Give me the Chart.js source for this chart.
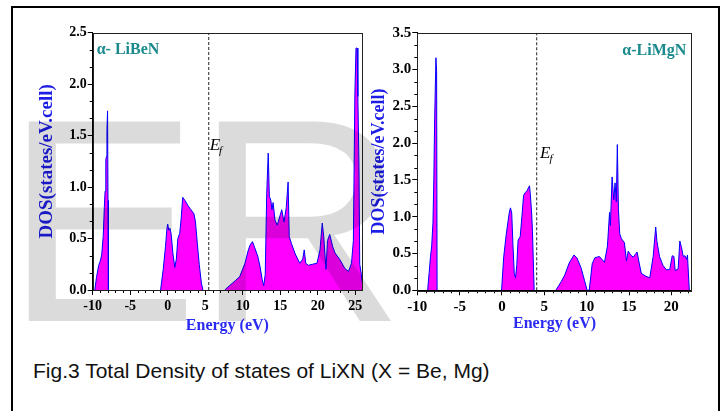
<!DOCTYPE html>
<html>
<head>
<meta charset="utf-8">
<script src="https://cdn.jsdelivr.net/npm/chart.js@4.4.1/dist/chart.umd.min.js"></script>
<style>
  html, body { margin: 0; padding: 0; background: #fff; }
  #page { position: relative; width: 722px; height: 411px; overflow: hidden; }
  #frame { position: absolute; left: 11px; top: 6px; width: 705px; height: 430px; border: 2px solid #000; }
  canvas { position: absolute; }
  #cvBe { left: 8px; top: 8px; }
  #cvMg { left: 362px; top: 8px; }
  #caption { position: absolute; left: 33px; top: 360px; font: 21px "Liberation Sans", Arial, sans-serif; line-height: 21px; color: #111; white-space: nowrap; }
  .wm { position: absolute; top: 75px; font: 290px "Liberation Sans", Arial, sans-serif; line-height: 1; color: rgba(0,0,0,0.14); pointer-events: none; z-index: 5; }
</style>
</head>
<body>
<div id="page">
  <div id="frame"></div>
  <canvas id="cvBe" width="358" height="335"></canvas>
  <canvas id="cvMg" width="352" height="335"></canvas>
  <div id="caption">Fig.3 Total Density of states of LiXN (X = Be, Mg)</div>
  <div class="wm" style="left:5px">E</div>
  <div class="wm" style="left:195px">R</div>
</div>
<script>
// α-LiBeN の全状態密度（null で帯を区切る）
const beEnergy = [-9.72, -9.5, -9.2, -9.0, -8.8, -8.6, -8.45, -8.35, -8.25, -8.15, -8.1, -8.02, -7.96, -7.92, -7.88,
  -4,
  -0.95, -0.6, -0.3, -0.1, 0.0, 0.15, 0.3, 0.45, 0.7, 0.95, 1.15, 1.35, 1.6, 1.8, 2.0, 2.3, 2.7, 3.1, 3.5, 3.7, 3.95, 4.2, 4.5, 4.7,
  6,
  7.6, 8.2, 9.0, 9.6, 10.3, 10.75, 11.0, 11.3, 11.6, 12.0, 12.3, 12.6, 12.8, 13.0, 13.2, 13.4, 13.55, 13.75, 13.9, 14.05, 14.3, 14.6,
  15.0, 15.2, 15.5, 15.8, 16.05, 16.2, 16.5, 17.0, 17.6, 18.0, 18.2, 18.4, 18.75, 19.3, 19.9, 20.3, 20.6, 20.8, 21.1, 21.3, 21.6,
  22.0, 22.3, 23.0, 23.6, 24.1, 24.5, 24.75, 24.95, 25.1, 25.25, 25.35, 25.5, 25.6, 25.8, 25.9];
const beDos = [0, 0.12, 0.24, 0.28, 0.34, 0.52, 0.8, 0.96, 1.27, 1.3, 1.55, 1.74, 0.87, 0.4, 0,
  null,
  0, 0.2, 0.42, 0.6, 0.64, 0.58, 0.6, 0.55, 0.35, 0.22, 0.3, 0.5, 0.55, 0.7, 0.9, 0.87, 0.82, 0.78, 0.74, 0.66, 0.45, 0.25, 0.06, 0,
  null,
  0, 0.04, 0.09, 0.13, 0.26, 0.39, 0.44, 0.47, 0.41, 0.33, 0.23, 0.1, 0.04, 0.15, 0.94, 1.33, 0.91, 0.87, 0.78, 0.85, 0.68, 0.63,
  0.73, 0.78, 0.66, 0.8, 1.05, 0.52, 0.45, 0.35, 0.26, 0.3, 0.39, 0.26, 0.24, 0.25, 0.26, 0.39, 0.65, 0.52, 0.2, 0.48, 0.54,
  0.42, 0.36, 0.29, 0.21, 0.18, 0.26, 0.48, 1.9, 2.35, 2.35, 1.88, 1.2, 0.25, 0.16, 0.08];

// α-LiMgN の全状態密度
const mgEnergy = [-8.78, -8.6, -8.45, -8.3, -8.15, -8.05, -7.95, -7.8, -7.72, -7.66,
  -4,
  -0.05, 0.2, 0.5, 0.85, 1.0, 1.15, 1.3, 1.45, 1.6, 1.75, 1.9, 2.15, 2.35, 2.55, 2.75, 2.95, 3.15, 3.25, 3.35, 3.5, 3.6, 3.72, 3.8,
  5,
  6.36, 7.0, 7.42, 7.93, 8.5, 8.85, 9.35, 9.75, 10.05, 10.3, 10.65, 10.95, 11.5, 12.1, 12.45, 12.7, 12.8, 13.0, 13.2, 13.35, 13.5,
  13.62, 13.75, 13.9, 14.1, 14.45, 14.7, 14.9, 15.2, 15.5, 15.95, 16.2, 16.45, 17.0, 17.45, 17.85, 18.15, 18.3, 18.6, 19.0, 19.4,
  19.8, 20.1, 20.3, 20.45, 20.8, 21.0, 21.2, 21.4, 21.6, 21.8, 21.9, 22.05, 22.12];
const mgDos = [0, 0.24, 0.45, 0.6, 0.92, 1.5, 2.33, 3.16, 2.97, 0,
  null,
  0, 0.45, 0.76, 1.05, 1.12, 1.05, 0.6, 0.23, 0.17, 0.35, 0.68, 0.73, 1.0, 1.29, 1.33, 1.35, 1.4, 1.42, 1.3, 1.05, 0.8, 0.3, 0,
  null,
  0, 0.12, 0.21, 0.37, 0.48, 0.44, 0.3, 0.13, 0, 0, 0.36, 0.44, 0.46, 0.38, 0.6, 1.06, 0.88, 1.54, 1.23, 1.46, 1.2,
  1.98, 1.1, 0.77, 0.7, 0.65, 0.4, 0.53, 0.48, 0.45, 0.52, 0.37, 0.23, 0.19, 0.17, 0.46, 0.86, 0.66, 0.46, 0.34, 0.28,
  0.28, 0.47, 0.46, 0.27, 0.29, 0.67, 0.58, 0.46, 0.47, 0.42, 0.48, 0.14, 0];

// 軸の目盛りラベル
const beXTicks = [-10, -5, 0, 5, 10, 15, 20, 25];
const beYTicks = [0, 0.5, 1.0, 1.5, 2.0, 2.5];
const mgXTicks = [-10, -5, 0, 5, 10, 15, 20];
const mgYTicks = [0, 0.5, 1.0, 1.5, 2.0, 2.5, 3.0, 3.5];

// フェルミ準位
const beFermi = 5.47;
const mgFermi = 4.1;

const SERIF = '"Liberation Serif", "Times New Roman", serif';

function makeChart(canvasId, cfg) {
    const points = cfg.energy.map((e, i) => ({ x: e, y: cfg.dos[i] }));
    const yMax = cfg.yTicks[cfg.yTicks.length - 1];

    // 副目盛り・枠・注記を描くプラグイン
    const decor = {
        id: 'decor',
        afterDraw(chart) {
            const { ctx, chartArea: a, scales: { x, y } } = chart;
            ctx.save();
            ctx.strokeStyle = '#000';
            ctx.lineWidth = 1;
            ctx.beginPath();
            for (let v = Math.ceil(x.min); v <= x.max; v += 1) {
                if (v % 5 === 0) continue;
                const px = Math.round(x.getPixelForValue(v)) + 0.5;
                ctx.moveTo(px, a.bottom); ctx.lineTo(px, a.bottom + 3);
            }
            for (let k = 0; k <= yMax * 6 + 1e-6; k++) {
                if (k % 3 === 0) continue;
                const py = Math.round(y.getPixelForValue(k / 6)) + 0.5;
                ctx.moveTo(a.left, py); ctx.lineTo(a.left - 3, py);
            }
            ctx.stroke();
            ctx.strokeStyle = '#222';
            ctx.strokeRect(Math.round(a.left) + 0.5, Math.round(a.top) + 0.5,
                Math.round(a.right - a.left), Math.round(a.bottom - a.top));

            // 物質名
            ctx.fillStyle = '#1b8a8c';
            ctx.font = 'bold 16px ' + SERIF;
            ctx.textBaseline = 'middle';
            ctx.textAlign = cfg.nameAlign;
            ctx.fillText(cfg.name, x.getPixelForValue(cfg.namePos[0]), y.getPixelForValue(cfg.namePos[1]));

            // E_f
            ctx.fillStyle = '#000';
            ctx.textAlign = 'left';
            ctx.textBaseline = 'alphabetic';
            ctx.font = 'italic 17px ' + SERIF;
            const ex = x.getPixelForValue(cfg.efPos[0]);
            const ey = y.getPixelForValue(cfg.efPos[1]) + 5;
            ctx.fillText('E', ex, ey);
            const w = ctx.measureText('E').width;
            ctx.font = 'italic 11px ' + SERIF;
            ctx.fillText('f', ex + w - 1, ey + 4);
            ctx.restore();
        }
    };

    return new Chart(document.getElementById(canvasId), {
        type: 'line',
        data: {
            datasets: [{
                data: points,
                borderColor: '#0000ff',
                borderWidth: 1,
                backgroundColor: '#ff00ff',
                fill: 'origin',
                pointRadius: 0,
                tension: 0,
                spanGaps: false
            }, {
                data: [{ x: cfg.fermi, y: 0 }, { x: cfg.fermi, y: yMax }],
                borderColor: '#222',
                borderWidth: 1,
                borderDash: [3, 2],
                fill: false,
                pointRadius: 0
            }]
        },
        options: {
            responsive: false,
            animation: false,
            events: [],
            layout: { padding: { top: 24.7, right: cfg.padRight, left: 0, bottom: 0 } },
            plugins: { legend: { display: false }, tooltip: { enabled: false } },
            scales: {
                x: {
                    type: 'linear',
                    min: -10,
                    max: cfg.xMax,
                    afterBuildTicks: s => { s.ticks = cfg.xTicks.map(v => ({ value: v })); },
                    afterFit: s => { s.height = cfg.xAxisH; },
                    grid: { drawOnChartArea: false, drawTicks: true, tickLength: 5, color: '#000' },
                    border: { display: true, color: '#000', width: 1 },
                    ticks: {
                        color: '#000', padding: 3, maxRotation: 0, autoSkip: false,
                        font: { family: SERIF, weight: 'bold', size: cfg.tickSize },
                        callback: v => String(v)
                    },
                    title: {
                        display: true, text: 'Energy (eV)', color: '#2a2af2',
                        font: { family: SERIF, weight: 'bold', size: cfg.xTitleSize },
                        padding: { top: 0, bottom: cfg.xTitlePad }
                    }
                },
                y: {
                    min: 0,
                    max: yMax,
                    afterBuildTicks: s => { s.ticks = cfg.yTicks.map(v => ({ value: v })); },
                    afterFit: s => { s.width = cfg.yAxisW; },
                    grid: { drawOnChartArea: false, drawTicks: true, tickLength: 5, color: '#000' },
                    border: { display: true, color: '#000', width: 1 },
                    ticks: {
                        color: '#000', padding: 1,
                        font: { family: SERIF, weight: 'bold', size: cfg.tickSize },
                        callback: v => Number(v).toFixed(1)
                    },
                    title: {
                        display: true, text: 'DOS(states/eV.cell)', color: '#1d1de6',
                        font: { family: SERIF, weight: 'bold', size: cfg.yTitleSize },
                        padding: { top: cfg.yTitlePad, bottom: 0 }
                    }
                }
            }
        },
        plugins: [decor]
    });
}

makeChart('cvBe', {
    energy: beEnergy, dos: beDos, xTicks: beXTicks, yTicks: beYTicks, xMax: 25.9, fermi: beFermi,
    name: 'α- LiBeN', nameAlign: 'left', namePos: [-9.47, 2.33], efPos: [5.6, 1.41], tickSize: 14,
    padRight: 4, xAxisH: 53, yAxisW: 84.7, xTitleSize: 16, xTitlePad: 8, yTitleSize: 19, yTitlePad: 28
});

makeChart('cvMg', {
    energy: mgEnergy, dos: mgDos, xTicks: mgXTicks, yTicks: mgYTicks, xMax: 22.4, fermi: mgFermi,
    name: 'α-LiMgN', nameAlign: 'right', namePos: [21.77, 3.26], efPos: [4.5, 1.87], tickSize: 15,
    padRight: 22.3, xAxisH: 52.7, yAxisW: 55.3, xTitleSize: 16, xTitlePad: 10, yTitleSize: 18, yTitlePad: 7
});
</script>
</body>
</html>
